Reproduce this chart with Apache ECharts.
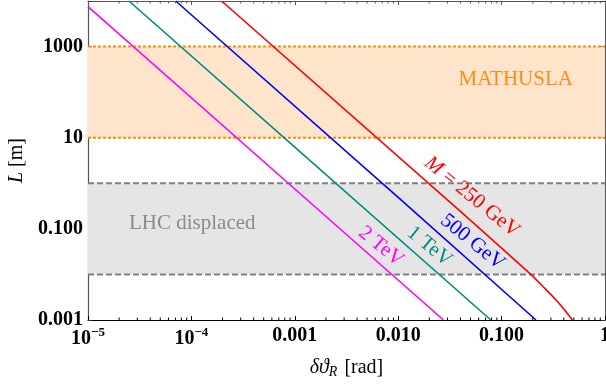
<!DOCTYPE html>
<html><head><meta charset="utf-8">
<script src="https://cdn.jsdelivr.net/npm/echarts@6/dist/echarts.min.js"></script>
<style>html,body{margin:0;padding:0;background:#fff}#c{width:606px;height:387px}</style>
</head><body><div id="c"></div>
<script>
// ---- data ----
const xMin = 1e-5, xMax = 1, yMin = 0.001, yMax = 10000;
const xTickLabels = {'-5':'{b|10}{s|−5}','-4':'{b|10}{s|−4}','-3':'0.001','-2':'0.010','-1':'0.100','0':'1'};
const yTickLabels = {'-3':'0.001','-1':'0.100','1':'10','3':'1000'};
const xMinorTicks = [2e-5,3e-5,4e-5,5e-5,6e-5,7e-5,8e-5,9e-5,2e-4,3e-4,4e-4,5e-4,6e-4,7e-4,8e-4,9e-4,
  2e-3,3e-3,4e-3,5e-3,6e-3,7e-3,8e-3,9e-3,2e-2,3e-2,4e-2,5e-2,6e-2,7e-2,8e-2,9e-2,0.2,0.3,0.4,0.5,0.6,0.7,0.8,0.9];
const line2TeV = [[1e-5,7500],[1e-3,0.75],[0.0274,0.001]];
const line1TeV = [[2.49e-5,1e4],[1e-3,6.2],[0.0787,0.001]];
const line500GeV = [[7.05e-5,1e4],[1e-2,0.49],[0.215,0.001]];
const line250GeV = [[1.96e-4,1e4],[0.039,0.255],[0.1,0.0377],[0.2,0.0092],[0.25,0.0055],[0.3,0.0036],[0.35,0.00248],[0.4,0.00175],[0.45,0.00124],[0.485,0.001]];
const mathuslaBand = [10, 1000];
const lhcBand = [0.01, 1];
const curveLabels = [
  {text:'{i|M} = 250 GeV', at:[0.0518,0.50], color:'#ff0000'},
  {text:'500 GeV', at:[0.0524,0.0514], color:'#0000ff'},
  {text:'1 TeV', at:[0.0201,0.041], color:'#008b80'},
  {text:'2 TeV', at:[0.00683,0.041], color:'#ff00ff'}
];
const regionLabels = [
  {text:'MATHUSLA', at:[0.137,194], color:'#ff8c1a'},
  {text:'LHC displaced', at:[1.02e-4,0.1324], color:'#8a8a8a'}
];

const FONT = "'Liberation Serif','Times New Roman',serif";
const chart = echarts.init(document.getElementById('c'));
const ex = v => String(Math.round(Math.log10(v)));

function bandSeries(range, fill, stroke, dash, width) {
  return {
    type:'custom', xAxisIndex:0, yAxisIndex:0, z:1, silent:true,
    data:[[range[0], range[1]]],
    renderItem:(params, api) => {
      const lo = api.value(0), hi = api.value(1);
      const p0 = api.coord([xMin, hi]), p1 = api.coord([xMax, lo]);
      return {type:'group', children:[
        {type:'rect', shape:{x:p0[0], y:p0[1], width:p1[0]-p0[0], height:p1[1]-p0[1]}, style:{fill:fill}},
        {type:'line', shape:{x1:p0[0], y1:p0[1], x2:p1[0], y2:p0[1]}, style:{stroke:stroke, lineWidth:width, lineDash:dash}},
        {type:'line', shape:{x1:p0[0], y1:p1[1], x2:p1[0], y2:p1[1]}, style:{stroke:stroke, lineWidth:width, lineDash:dash}}
      ]};
    }
  };
}

function curve(data, color) {
  return {type:'line', data:data, showSymbol:false, symbol:'none', z:5, silent:true,
    lineStyle:{color:color, width:1.6}, smooth:false};
}

const option = {
  animation:false,
  grid:{left:88, right:1, top:1, bottom:67, containLabel:false, outerBoundsMode:'none'},
  xAxis:[
    {type:'log', logBase:10, min:xMin, max:xMax, position:'bottom',
     axisLine:{show:true, lineStyle:{color:'#000', width:1.2}},
     axisTick:{show:true, inside:true, length:4, lineStyle:{color:'#000'}},
     splitLine:{show:false},
     axisLabel:{margin:6, color:'#000', fontFamily:FONT, fontSize:20, fontWeight:'bold',
       formatter:v => xTickLabels[ex(v)] || '',
       rich:{b:{fontFamily:FONT, fontSize:20, fontWeight:'bold', color:'#000'},
             s:{fontFamily:FONT, fontSize:13, fontWeight:'bold', color:'#000', padding:[0,0,12,0]}}},
     name:'{g|δϑ}{r|R} [rad]', nameLocation:'middle', nameGap:36,
     nameTextStyle:{fontFamily:FONT, fontSize:20, color:'#000',
       rich:{g:{fontFamily:FONT, fontSize:20, fontStyle:'italic', color:'#000'},
             r:{fontFamily:FONT, fontSize:14, fontStyle:'italic', color:'#000', padding:[9,2,0,0]}}}},
    {type:'log', logBase:10, min:xMin, max:xMax, position:'top',
     axisLine:{show:true, lineStyle:{color:'#555', width:1}},
     axisTick:{show:true, inside:true, length:4, lineStyle:{color:'#555'}},
     axisLabel:{show:false}, splitLine:{show:false}}
  ],
  yAxis:[
    {type:'log', logBase:10, min:yMin, max:yMax, splitNumber:7, position:'left',
     axisLine:{show:true, lineStyle:{color:'#555', width:1.2}},
     axisTick:{show:true, inside:true, length:4, lineStyle:{color:'#333'}},
     splitLine:{show:false},
     axisLabel:{margin:5, color:'#000', fontFamily:FONT, fontSize:20, fontWeight:'bold',
       formatter:v => yTickLabels[ex(v)] || ''},
     name:'{i|L} [m]', nameLocation:'middle', nameGap:60,
     nameTextStyle:{fontFamily:FONT, fontSize:20, color:'#000',
       rich:{i:{fontFamily:FONT, fontSize:20, fontStyle:'italic', color:'#000'}}}},
    {type:'log', logBase:10, min:yMin, max:yMax, splitNumber:7, position:'right',
     axisLine:{show:true, lineStyle:{color:'#555', width:1}},
     axisTick:{show:true, inside:true, length:4, lineStyle:{color:'#333'}},
     axisLabel:{show:false}, splitLine:{show:false}}
  ],
  series:[
    bandSeries(mathuslaBand, '#fee4ca', '#ff8c00', [3,2], 2),
    bandSeries(lhcBand, '#e5e5e5', '#808080', [6,3], 2),
    {type:'custom', z:6, silent:true, data:xMinorTicks.map(v => [v]),
     renderItem:(params, api) => {
       const b = api.coord([api.value(0), yMin]), t = api.coord([api.value(0), yMax]);
       return {type:'group', children:[
         {type:'line', shape:{x1:b[0], y1:b[1], x2:b[0], y2:b[1]-2.5}, style:{stroke:'#000', lineWidth:1}},
         {type:'line', shape:{x1:t[0], y1:t[1], x2:t[0], y2:t[1]+2.5}, style:{stroke:'#555', lineWidth:1}}
       ]};
     }},
    curve(line2TeV, '#ff00ff'),
    curve(line1TeV, '#008b80'),
    curve(line500GeV, '#0000ff'),
    curve(line250GeV, '#ff0000'),
    {type:'custom', z:7, silent:true, data:curveLabels.map((d,i) => [d.at[0], d.at[1], i]),
     renderItem:(params, api) => {
       const d = curveLabels[api.value(2)];
       const p = api.coord([api.value(0), api.value(1)]);
       return {type:'text', x:p[0], y:p[1], rotation:-39*Math.PI/180,
         style:{text:d.text, fill:d.color, font:'21px ' + FONT, align:'center', verticalAlign:'middle',
           rich:{i:{fontStyle:'italic', fontSize:21, fontFamily:FONT, fill:d.color}}}};
     }},
    {type:'custom', z:7, silent:true, data:regionLabels.map((d,i) => [d.at[0], d.at[1], i]),
     renderItem:(params, api) => {
       const d = regionLabels[api.value(2)];
       const p = api.coord([api.value(0), api.value(1)]);
       return {type:'text', x:p[0], y:p[1],
         style:{text:d.text, fill:d.color, font:'21px ' + FONT, align:'center', verticalAlign:'middle'}};
     }}
  ]
};
chart.setOption(option);
</script>
</body></html>
